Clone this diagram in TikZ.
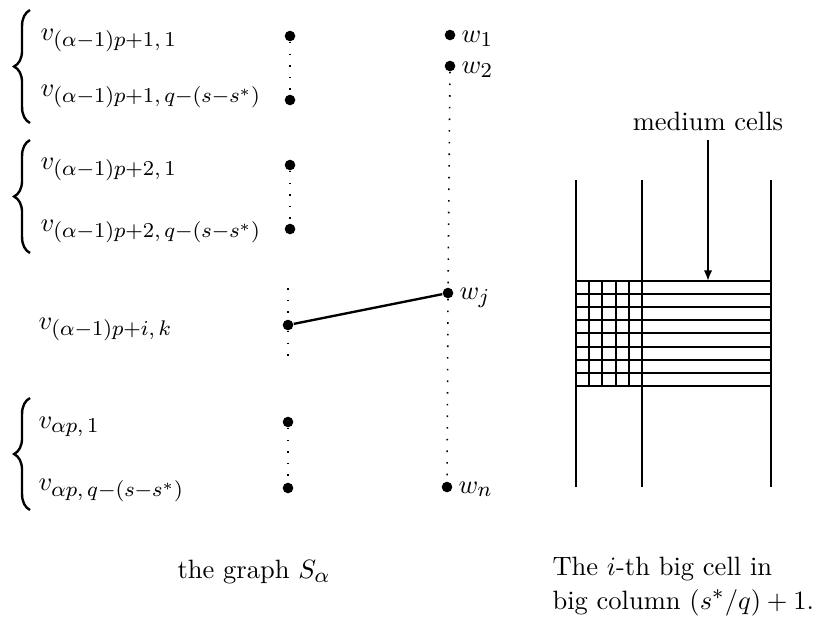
\documentclass[tikz,border=0pt]{standalone}
\usetikzlibrary{decorations.pathreplacing,arrows.meta}
\DeclareMathSizes{10}{10}{8}{6}
\begin{document}
\begin{tikzpicture}[x=0.3774pt,y=-0.3774pt,
  vdot/.style={circle,fill=black,inner sep=0pt,minimum size=4pt},
  lab/.style={anchor=base west,inner sep=0pt},
  dotline/.style={line width=0.6pt,dash pattern=on 0.6pt off 3.8pt},
  gridline/.style={line width=0.75pt},
  bracestyle/.style={decorate,decoration={brace,amplitude=6pt},line width=0.9pt}]
\useasboundingbox (0,0) rectangle (816,619);
% left column vertices
\node[vdot] (a1) at (290,36) {};
\node[vdot] (a2) at (290,100) {};
\node[vdot] (b1) at (290,165) {};
\node[vdot] (b2) at (290,229) {};
\node[vdot] (c)  at (288,325) {};
\node[vdot] (d1) at (288,422) {};
\node[vdot] (d2) at (288,488) {};
\coordinate (cT) at (288,288);
\coordinate (cB) at (288,356);
% right column vertices
\node[vdot] (w1) at (450,35) {};
\node[vdot] (w2) at (450,66) {};
\node[vdot] (wj) at (448,293) {};
\node[vdot] (wn) at (447,487) {};
% labels
\node[lab] (la1) at (40,40) {$v_{(\alpha-1)p+1,\,1}$};
\node[lab] (la2) at (40,96) {$v_{(\alpha-1)p+1,\,q-(s-s^*)}$};
\node[lab] (lb1) at (40,169) {$v_{(\alpha-1)p+2,\,1}$};
\node[lab] (lb2) at (40,231) {$v_{(\alpha-1)p+2,\,q-(s-s^*)}$};
\node[lab] (lc)  at (38,329) {$v_{(\alpha-1)p+i,\,k}$};
\node[lab] (ld1) at (38,428) {$v_{\alpha p,\,1}$};
\node[lab] (ld2) at (38,490) {$v_{\alpha p,\,q-(s-s^*)}$};
\node[lab] (lw1) at (461,42) {$w_1$};
\node[lab] (lw2) at (461,73) {$w_2$};
\node[lab] (lwj) at (459,299) {$w_j$};
\node[lab] (lwn) at (458,493) {$w_n$};
% braces
\coordinate (br1b) at (30,123); \coordinate (br1t) at (30,10);
\coordinate (br2b) at (30,253); \coordinate (br2t) at (30,140);
\coordinate (br3b) at (30,510); \coordinate (br3t) at (30,398);
\draw[bracestyle] (br1b) -- (br1t);
\draw[bracestyle] (br2b) -- (br2t);
\draw[bracestyle] (br3b) -- (br3t);
% dotted lines
\draw[dotline] (a1) -- (a2);
\draw[dotline] (b1) -- (b2);
\draw[dotline] (cT) -- (c) -- (cB);
\draw[dotline] (d1) -- (d2);
\draw[dotline] (w2) -- (wj) -- (wn);
% edge
\draw[line width=0.9pt] (c) -- (wj);
% big cell grid
\foreach \x in {576,642,771} \draw[gridline] (\x,180) -- (\x,487);
\foreach \i in {0,...,8} \draw[gridline] (576,281+13.1*\i) -- (771,281+13.1*\i);
\foreach \i in {1,...,4} \draw[gridline] (576+13.2*\i,281) -- (576+13.2*\i,385.8);
% medium cells arrow
\node[anchor=base,inner sep=0pt] (mc) at (708,130) {medium cells};
\coordinate (g0) at (708,281);
\draw[line width=0.8pt,-{Latex[length=4pt,width=3.2pt]},shorten <=3.5pt] (mc.south) -- (g0);
% captions
\node[lab] (cap1) at (177,578) {the graph $S_\alpha$};
\node[lab] (cap2) at (552,575) {The $i$-th big cell in};
\node[lab] (cap3) at (552,609) {big column $(s^*/q)+1$.};
\end{tikzpicture}
\end{document}
